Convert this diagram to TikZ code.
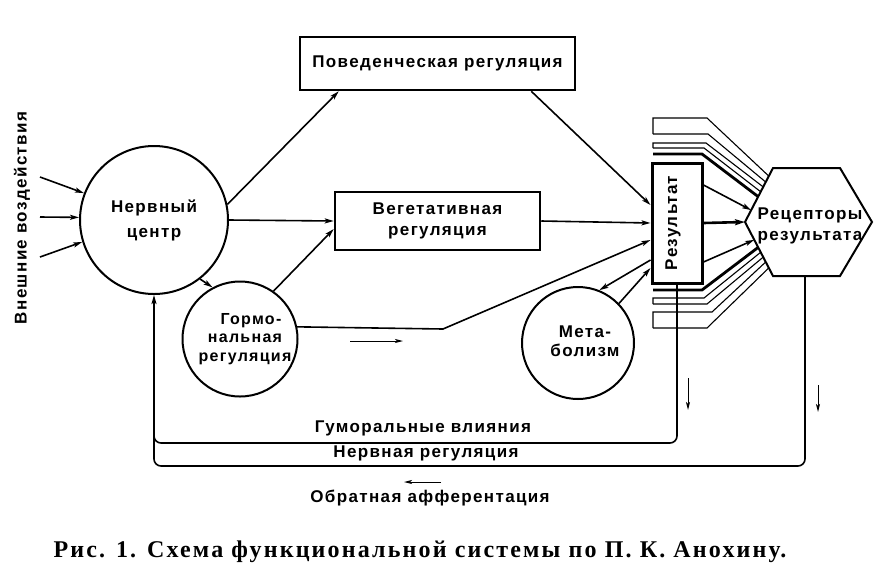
\documentclass[tikz,border=0pt]{standalone}
\usepackage{fontspec}
\setmainfont{Liberation Serif}
\newfontfamily\lbl[LetterSpace=8]{Liberation Sans}
\newfontfamily\capfont[LetterSpace=9]{Liberation Serif}
\usetikzlibrary{calc,arrows.meta}
\begin{document}
\begin{tikzpicture}[x=1pt,y=-1pt,
  txt/.style={font=\lbl\bfseries\fontsize{17}{21}\selectfont, align=center, inner sep=0pt},
  ln/.style={line width=1.6pt},
  thin/.style={line width=1.1pt},
  arr/.style={ln,-{Stealth[length=9pt,width=5pt,inset=2pt]}},
  arrs/.style={line width=1pt,-{Stealth[length=8pt,width=4pt,inset=2pt]}},
  circ/.style={circle,draw,line width=2pt,inner sep=0pt},
  boxx/.style={rectangle,draw,line width=2.5pt,inner sep=0pt}]
\useasboundingbox (0,0) rectangle (877,579);

% nodes
\node[circ,minimum size=148pt,txt] (nc) at (154,220) {Нервный\\[4pt]центр};
\node[circ,minimum size=115pt] (hr) at (240,339) {};
\node[txt,font=\lbl\bfseries\fontsize{16}{18.5}\selectfont] (hrt) at (245,339) {\hspace*{12pt}Гормо-\\нальная\\регуляция};
\node[circ,minimum size=112pt] (met) at (578,343) {};
\node[txt,font=\lbl\bfseries\fontsize{17}{19}\selectfont] (mett) at (585,341) {Мета-\\болизм};
\node[boxx,minimum width=275pt,minimum height=53pt,txt] (beh) at (437.5,63.5) {Поведенческая регуляция};
\node[boxx,minimum width=205pt,minimum height=58pt,txt] (veg) at (437.5,221) {Вегетативная\\регуляция};
\node[boxx,line width=3pt,minimum width=50pt,minimum height=120pt] (res) at (677,223) {};
\node[txt,rotate=90] (rest) at (673,223) {Результат};
\node[txt,rotate=90] (ext) at (22,218) {Внешние воздействия};

% hexagon
\coordinate (hL) at (745,222);
\coordinate (hTL) at (773,168);
\coordinate (hTR) at (840,168);
\coordinate (hR) at (872,222);
\coordinate (hBR) at (840,276);
\coordinate (hBL) at (773,276);
\coordinate (recS) at (805,276);
\draw[line width=2pt,line join=miter] (hL) -- (hTL) -- (hTR) -- (hR) -- (hBR) -- (hBL) -- cycle;
\node[txt] (rec) at (810,226) {Рецепторы\\результата};

% external inputs
\coordinate (i1) at (40,177);
\coordinate (i2) at (40,217);
\coordinate (i3) at (40,257);
\draw[arr] (i1) -- (nc.159);
\draw[arr] (i2) -- (nc.178);
\draw[arr] (i3) -- (nc.197);

% main connectors
\draw[arr] (nc.12) -- ([xshift=40pt]beh.south west);
\draw[arr] (nc.east) -- (veg.west);
\draw[arr] (hr.55) -- ([yshift=-8pt]veg.west);
\draw[arr] (nc.-52) -- (hr.118);
\coordinate (hk) at (443,329);
\draw[arr] (hr.12) -- (hk) -- ([yshift=-17pt]res.west);
\draw[arr] (veg.east) -- (res.west);
\draw[arr] ([xshift=-45pt]beh.south east) -- ([yshift=18pt]res.west);
\draw[arr] ([yshift=-37pt]res.west) -- (met.68);
\draw[arr] (met.44) -- ([yshift=-45pt]res.west);

% result -> receptors
\draw[arr] ([yshift=38pt]res.east) -- ($(hTL)!0.78!(hL)$);
\draw[ln,line width=2.6pt,-{Stealth[length=10pt,width=6pt,inset=2pt]}] (res.east) -- (hL);
\draw[arr] ([yshift=-39pt]res.east) -- ($(hBL)!0.67!(hL)$);

% upper bundle
\draw[thin] (653,134) -- (653,118) -- (707,118) -- ($(hTL)!0.15!(hL)$);
\draw[thin] (653,134) -- (708,134) -- ($(hTL)!0.26!(hL)$);
\draw[thin] (653,148) -- (653,143) -- (706,143) -- ($(hTL)!0.35!(hL)$);
\draw[thin] (653,148) -- (704,148) -- ($(hTL)!0.44!(hL)$);
\draw[line width=2.8pt] (653,154) -- (702,154) -- ($(hTL)!0.53!(hL)$);

% lower bundle
\draw[line width=2.8pt] (653,290) -- (702,290) -- ($(hBL)!0.53!(hL)$);
\draw[thin] (653,304) -- (653,298) -- (704,298) -- ($(hBL)!0.44!(hL)$);
\draw[thin] (653,304) -- (707,304) -- ($(hBL)!0.35!(hL)$);
\draw[thin] (653,328) -- (653,312) -- (712,312) -- ($(hBL)!0.26!(hL)$);
\draw[thin] (653,328) -- (707,328) -- ($(hBL)!0.15!(hL)$);

% feedback loops
\draw[arr,rounded corners=7pt] (res.south) |- ($(nc.south)+(0,148)$) -- (nc.south);
\draw[ln,rounded corners=7pt] (recS) |- ($(nc.south)+(0,171)$) -- ($(nc.south)+(0,135)$);

% loose arrows
\coordinate (a1s) at (350,341); \coordinate (a1e) at (403,341);
\coordinate (a2s) at (688,378); \coordinate (a2e) at (688,410);
\coordinate (a3s) at (818,385); \coordinate (a3e) at (818,412);
\coordinate (a4s) at (441,482); \coordinate (a4e) at (404,482);
\draw[arrs] (a1s) -- (a1e);
\draw[arrs] (a2s) -- (a2e);
\draw[arrs] (a3s) -- (a3e);
\draw[arrs] (a4s) -- (a4e);

% bottom labels
\node[txt] (hum) at (423,428) {Гуморальные влияния};
\node[txt] (nerv) at (426,453) {Нервная регуляция};
\node[txt] (aff) at (430,498) {Обратная афферентация};

% caption
\node[inner sep=0pt,font=\capfont\bfseries\fontsize{24}{28}\selectfont] (cap) at (420,552) {Рис. 1. Схема функциональной системы по П. К. Анохину.};
\end{tikzpicture}
\end{document}
